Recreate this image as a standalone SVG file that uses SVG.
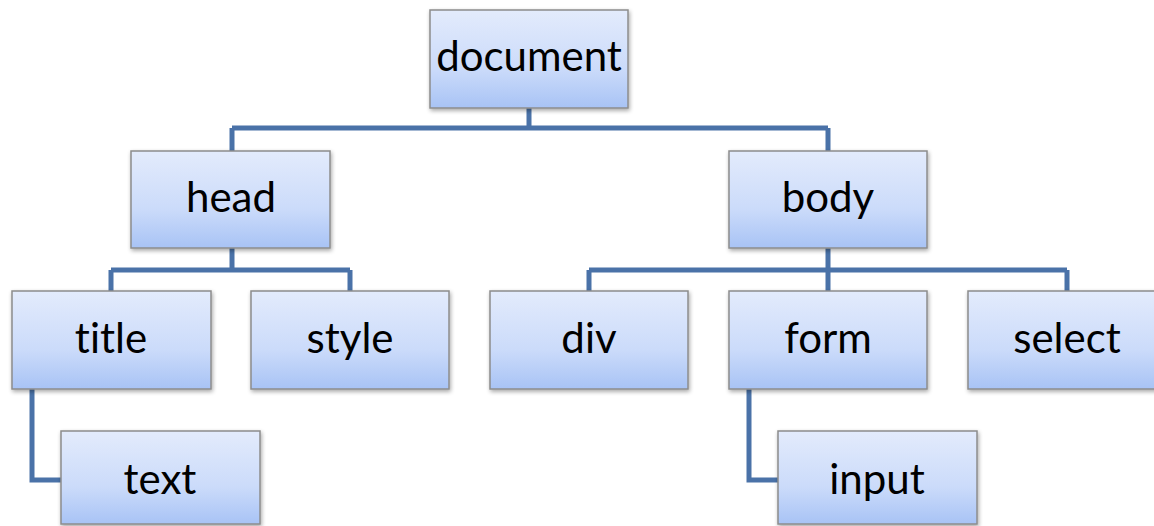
<svg xmlns="http://www.w3.org/2000/svg" width="1154" height="526" viewBox="0 0 1154 526">
<defs>
<linearGradient id="g" x1="0" y1="0" x2="0" y2="1">
<stop offset="0" stop-color="#e3ebfc"/>
<stop offset="0.6" stop-color="#cbdbfa"/>
<stop offset="1" stop-color="#a8c3f5"/>
</linearGradient>
<filter id="sh" x="-10%" y="-10%" width="130%" height="130%">
<feGaussianBlur in="SourceAlpha" stdDeviation="2"/>
<feOffset dx="1" dy="2" result="b"/>
<feComponentTransfer><feFuncA type="linear" slope="0.35"/></feComponentTransfer>
<feMerge><feMergeNode/><feMergeNode in="SourceGraphic"/></feMerge>
</filter>
</defs>
<style>
.box{fill:url(#g);stroke:#8c8c8c;stroke-width:1.5;filter:url(#sh)}
.lbl{font-family:Lato,"Open Sans","Liberation Sans",sans-serif;font-size:42px;fill:#000;text-anchor:middle;font-variant-ligatures:none}
.con{fill:none;stroke:#4a72a8;stroke-width:5}
</style>
<rect width="1154" height="526" fill="#fff"/>
<g id="connectors">
<path class="con" d="M529 108V128M232 128H828M232 128V151M828 128V151"/>
<path class="con" d="M232 248V270M111 270H350M111 270V291M350 270V291"/>
<path class="con" d="M828 248V270M589 270H1067M589 270V291M828 270V291M1067 270V291"/>
<path class="con" d="M32 389V480H61"/>
<path class="con" d="M749 389V480H778"/>
</g>
<g id="document"><rect class="box" x="430" y="10" width="198" height="98"/><text class="lbl" x="529" y="71">document</text></g>
<g id="head"><rect class="box" x="131" y="151" width="199" height="97"/><text class="lbl" x="231" y="212">head</text></g>
<g id="body"><rect class="box" x="729" y="151" width="198" height="97"/><text class="lbl" x="828" y="212">body</text></g>
<g id="title"><rect class="box" x="12" y="291" width="199" height="98"/><text class="lbl" x="111" y="353">title</text></g>
<g id="style"><rect class="box" x="251" y="291" width="198" height="98"/><text class="lbl" x="350" y="353">style</text></g>
<g id="div"><rect class="box" x="490" y="291" width="198" height="98"/><text class="lbl" x="589" y="353">div</text></g>
<g id="form"><rect class="box" x="729" y="291" width="198" height="98"/><text class="lbl" x="828" y="353">form</text></g>
<g id="select"><rect class="box" x="968" y="291" width="198" height="98"/><text class="lbl" x="1067" y="353">select</text></g>
<g id="text"><rect class="box" x="61" y="431" width="199" height="93"/><text class="lbl" x="160" y="494">text</text></g>
<g id="input"><rect class="box" x="778" y="431" width="199" height="93"/><text class="lbl" x="877" y="494">input</text></g>
</svg>
